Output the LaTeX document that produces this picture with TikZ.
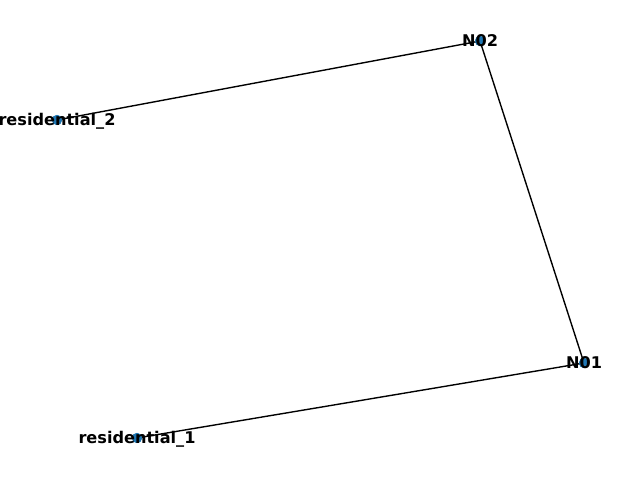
\documentclass[tikz,border=0pt]{standalone}
\usepackage{fontspec}
\setmainfont{DejaVu Sans}
\usepackage{tikz}
\usetikzlibrary{positioning, calc}
\definecolor{nodeblue}{HTML}{1F77B4}

\tikzset{
  dot/.style={circle, fill=nodeblue, inner sep=0pt, minimum size=7.6pt},
  lbl/.style={font=\fontsize{12.1}{12.1}\selectfont\bfseries, text=black, inner sep=0pt,
    text height=8.8pt, text depth=0pt},
  link/.style={black, line width=1.04pt}
}

\begin{document}
\begin{tikzpicture}[x=0.75pt, y=-0.75pt]
  \useasboundingbox (0,0) rectangle (640,480);

  % nodes
  \node[dot] (n02) at (480, 41) {};
  \node[dot] (res2) at (57, 120) {};
  \node[dot] (n01) at (584, 363) {};
  \node[dot] (res1) at (137, 438) {};

  % edges
  \draw[link] (res2.center) -- (n02.center);
  \draw[link] (n02.center) -- (n01.center);
  \draw[link] (n01.center) -- (res1.center);

  % redraw dots above the edges
  \node[dot] at (n02) {};
  \node[dot] at (res2) {};
  \node[dot] at (n01) {};
  \node[dot] at (res1) {};

  % labels
  \node[lbl] (n02label) at (n02) {N02};
  \node[lbl] (res2label) at (res2) {residential\_2};
  \node[lbl] (n01label) at (n01) {N01};
  \node[lbl] (res1label) at (res1) {residential\_1};
\end{tikzpicture}
\end{document}
